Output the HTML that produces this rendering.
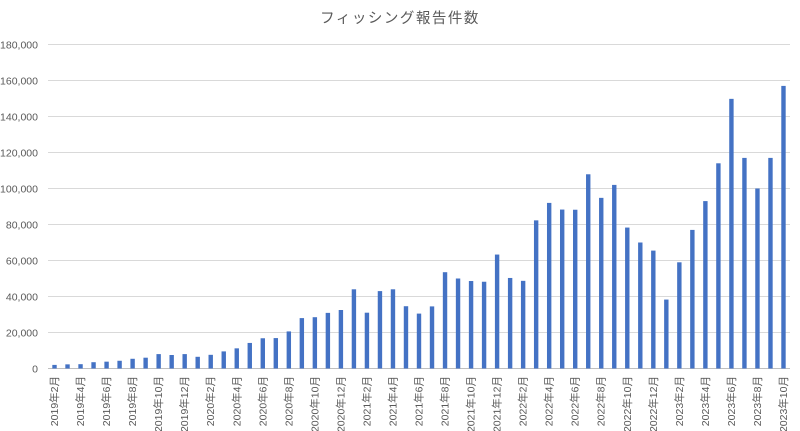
<!DOCTYPE html>
<html><head><meta charset="utf-8"><style>
html,body{margin:0;padding:0;background:#fff;}
svg{display:block;font-family:"Liberation Sans","Noto Sans CJK JP",sans-serif;}
</style></head><body>
<svg id="c" width="800" height="431" xmlns="http://www.w3.org/2000/svg">
<text x="400" y="23" text-anchor="middle" font-size="14.5" letter-spacing="1.5" fill="#595959">フィッシング報告件数</text>
<g id="g"></g>
</svg>
<script>
var d=[2000,2300,2400,3500,3800,4300,5400,6000,8000,7500,8000,
6500,7600,9500,11200,14200,16800,16900,20600,28000,28500,30900,32500,
44000,31000,43000,44000,34600,30500,34500,53500,50000,48600,48200,63300,
50300,48700,82300,92000,88300,88200,107900,94800,102000,78300,70000,65500,
38300,59000,77000,93000,114000,149800,117000,100000,117000,157000];
var s='',x0=48,x1=790,y0=368.5,h=324,w=(x1-x0)/57;
for(var i=0;i<=9;i++){var y=y0-i*36;
s+='<line x1="'+x0+'" x2="'+x1+'" y1="'+y+'" y2="'+y+'" stroke="'+(i?'#d9d9d9':'#bfbfbf')+'" stroke-width="1"/>';
s+='<text x="38" y="'+(y+4)+'" text-anchor="end" font-size="10.5" fill="#595959">'+(i*20000).toLocaleString('en-US')+'</text>';}
for(var i=0;i<57;i++){var cx=x0+(i+0.5)*w,bh=d[i]/180000*h;
s+='<rect x="'+(cx-2.2)+'" y="'+(y0-bh)+'" width="4.4" height="'+bh+'" fill="#4472c4"/>';
if(i%2==0){var m=i+2,yr=2019+Math.floor((m-1)/12),mo=(m-1)%12+1;
s+='<text transform="translate('+(cx+3.5)+',376) rotate(-90)" text-anchor="end" font-size="10.5" fill="#595959">'+yr+'年'+mo+'月</text>';}}
document.getElementById('g').innerHTML=s;
</script>
</body></html>
